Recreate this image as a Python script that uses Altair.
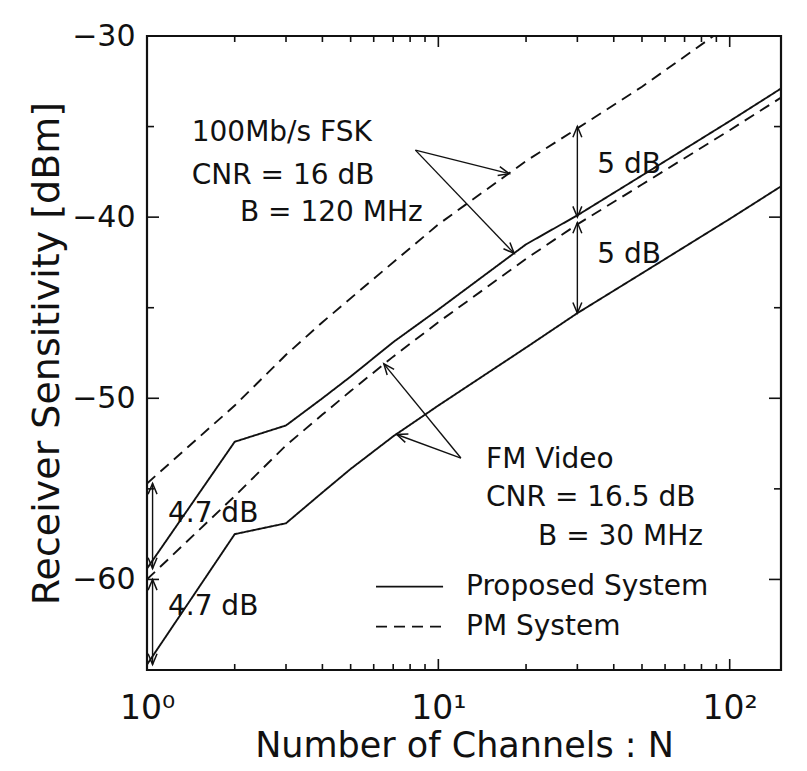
import math
import altair as alt
import pandas as pd

# Receiver sensitivity [dBm] against number of channels N
FSK_PM_N = [1, 2, 3, 4, 6, 10, 20, 30, 50, 88]
FSK_PM_S = [-54.7, -50.4, -47.6, -45.8, -43.4, -40.4, -36.9, -35.1, -32.8, -30.0]

FSK_PROP_N = [1, 2, 3, 4, 5, 7, 10, 20, 30, 50, 100, 150]
FSK_PROP_S = [-59.4, -52.4, -51.5, -50.0, -48.8, -46.9, -45.1, -41.5, -39.9, -37.7, -34.7, -32.9]

FM_PM_N = [1, 2, 3, 4, 5, 7, 10, 20, 30, 50, 100, 150]
FM_PM_S = [-60.0, -55.4, -52.6, -50.9, -49.6, -47.7, -45.8, -42.3, -40.4, -38.2, -35.2, -33.4]

FM_PROP_N = [1, 2, 3, 4, 5, 7, 10, 20, 30, 50, 100, 150]
FM_PROP_S = [-64.7, -57.5, -56.9, -55.2, -53.9, -52.1, -50.4, -47.2, -45.3, -43.1, -40.1, -38.3]

SYSTEMS = ["Proposed System", "PM System"]

# axis ticks
X_MAJOR = [1, 10, 100]
X_MAJOR_LABELS = ["10⁰", "10¹", "10²"]
X_MINOR = [2, 3, 4, 5, 6, 7, 8, 9, 20, 30, 40, 50, 60, 70, 80, 90]
Y_MAJOR = [-30, -40, -50, -60]
Y_MINOR = [-35, -45, -55]
X_DOMAIN = [1, 150]
Y_DOMAIN = [-65, -30]

# double-headed gap arrows
GAP_N = [1.045, 1.045, 30, 30]
GAP_TOP = [-54.7, -60.0, -35.0, -40.3]
GAP_BOTTOM = [-59.4, -64.7, -40.0, -45.3]
GAP_TEXT = ["4.7 dB", "4.7 dB", "5 dB", "5 dB"]
GAP_TEXT_N = [1.18, 1.18, 35.1, 35.1]
GAP_TEXT_S = [-56.4, -61.5, -37.1, -42.1]

# callout arrows from the note blocks to the curves
CALLOUT_FROM_N = [8.34, 8.34, 11.95, 11.95]
CALLOUT_FROM_S = [-36.3, -36.3, -53.3, -53.3]
CALLOUT_TO_N = [17.5, 18.2, 6.5, 7.2]
CALLOUT_TO_S = [-37.6, -42.0, -48.1, -52.0]

# note blocks
NOTE_TEXT = ["100Mb/s FSK", "CNR = 16 dB", "B = 120 MHz",
             "FM Video", "CNR = 16.5 dB", "B = 30 MHz"]
NOTE_N = [1.424, 1.424, 2.085, 14.58, 14.58, 21.99]
NOTE_S = [-35.35, -37.71, -39.79, -53.41, -55.50, -57.66]

# in-plot legend
LEGEND_LINE_N = [6.11, 10.38]
LEGEND_S = [-60.4, -62.6]
LEGEND_LABEL_N = 12.45

W, H = 634, 634
FONT = "DejaVu Sans"
INK = "#111111"

xs = alt.Scale(type="log", domain=X_DOMAIN, nice=False)
ys = alt.Scale(domain=Y_DOMAIN, nice=False, zero=False)


def px(n):
    return W * math.log10(n) / math.log10(X_DOMAIN[1] / X_DOMAIN[0])


def py(s):
    return H * (Y_DOMAIN[1] - s) / (Y_DOMAIN[1] - Y_DOMAIN[0])


def heading(n0, s0, n1, s1):
    dx = px(n1) - px(n0)
    dy = py(s1) - py(s0)
    return math.degrees(math.atan2(dx, -dy)) % 360


rows = []
for name, system, ns, ss in [
    ("fsk_pm", SYSTEMS[1], FSK_PM_N, FSK_PM_S),
    ("fsk_prop", SYSTEMS[0], FSK_PROP_N, FSK_PROP_S),
    ("fm_pm", SYSTEMS[1], FM_PM_N, FM_PM_S),
    ("fm_prop", SYSTEMS[0], FM_PROP_N, FM_PROP_S),
]:
    for n, s in zip(ns, ss):
        rows.append({"curve": name, "system": system, "N": n, "S": s})
curves_df = pd.DataFrame(rows)

dash_scale = alt.Scale(domain=SYSTEMS, range=[[1, 0], [11, 7]])

label_expr = " : ".join(
    f"datum.value == {v} ? '{t}'" for v, t in zip(X_MAJOR, X_MAJOR_LABELS)
) + " : ''"

x_axis = alt.Axis(values=X_MAJOR, labelExpr=label_expr, ticks=False, tickSize=0,
                  domain=False, grid=False, labelFlush=False, labelFont=FONT,
                  labelFontSize=33, labelColor=INK, labelPadding=22,
                  title="Number of Channels : N", titleFont=FONT, titleFontSize=35,
                  titleFontWeight="normal", titleColor=INK, titlePadding=3)
y_axis = alt.Axis(values=Y_MAJOR, format="d", ticks=False, tickSize=0, domain=False,
                  grid=False, labelFlush=False, labelFont=FONT, labelFontSize=30,
                  labelColor=INK, labelPadding=12, title="Receiver Sensitivity [dBm]",
                  titleFont=FONT, titleFontSize=38, titleFontWeight="normal",
                  titleColor=INK, titlePadding=5)


def X(field):
    return alt.X(field, scale=xs, axis=x_axis)


def Y(field):
    return alt.Y(field, scale=ys, axis=y_axis)


curves = alt.Chart(curves_df).mark_line(strokeWidth=1.9, color=INK, clip=True).encode(
    x=X("N:Q"),
    y=Y("S:Q"),
    detail="curve:N",
    strokeDash=alt.StrokeDash("system:N", scale=dash_scale, legend=None),
)

# inward tick marks on all four sides
tx = pd.DataFrame([{"N": v, "len": 11} for v in X_MAJOR] + [{"N": v, "len": 6} for v in X_MINOR])
ty = pd.DataFrame([{"S": v, "len": 12} for v in Y_MAJOR] + [{"S": v, "len": 7} for v in Y_MINOR])


def xticks(edge_top):
    layers = []
    for ln in sorted(set(tx["len"])):
        sub = tx[tx["len"] == ln]
        y0 = 0 if edge_top else H
        y1 = ln if edge_top else H - ln
        layers.append(alt.Chart(sub).mark_rule(color=INK, strokeWidth=1.6).encode(
            x=X("N:Q"), y=alt.value(y0), y2=alt.value(y1)))
    return layers


def yticks(edge_left):
    layers = []
    for ln in sorted(set(ty["len"])):
        sub = ty[ty["len"] == ln]
        x0 = 0 if edge_left else W
        x1 = ln if edge_left else W - ln
        layers.append(alt.Chart(sub).mark_rule(color=INK, strokeWidth=1.6).encode(
            y=Y("S:Q"), x=alt.value(x0), x2=alt.value(x1)))
    return layers


tick_layers = xticks(True) + xticks(False) + yticks(True) + yticks(False)

gap_df = pd.DataFrame({"N": GAP_N, "top": GAP_TOP, "bottom": GAP_BOTTOM})
gap_rules = alt.Chart(gap_df).mark_rule(color=INK, strokeWidth=1.4).encode(
    x=X("N:Q"), y=Y("top:Q"), y2="bottom:Q",
)

call_df = pd.DataFrame({"N0": CALLOUT_FROM_N, "S0": CALLOUT_FROM_S,
                        "N1": CALLOUT_TO_N, "S1": CALLOUT_TO_S})
call_rules = alt.Chart(call_df).mark_rule(color=INK, strokeWidth=1.4).encode(
    x=X("N0:Q"), y=Y("S0:Q"), x2="N1:Q", y2="S1:Q",
)

heads = []
for n, t, b in zip(GAP_N, GAP_TOP, GAP_BOTTOM):
    heads.append({"N": n, "S": t, "ang": heading(n, b, n, t)})
    heads.append({"N": n, "S": b, "ang": heading(n, t, n, b)})
for n0, s0, n1, s1 in zip(CALLOUT_FROM_N, CALLOUT_FROM_S, CALLOUT_TO_N, CALLOUT_TO_S):
    heads.append({"N": n1, "S": s1, "ang": heading(n0, s0, n1, s1)})
heads_df = pd.DataFrame(heads)

arrow_heads = alt.Chart(heads_df).mark_point(
    shape="M-0.5,1.2 L0,0 L0.5,1.2", filled=False, color=INK, strokeWidth=1.5,
    size=320, opacity=1,
).encode(
    x=X("N:Q"), y=Y("S:Q"),
    angle=alt.Angle("ang:Q", scale=None),
)

text_props = dict(align="left", baseline="middle", font=FONT, fontSize=28, color=INK)

gap_text = alt.Chart(pd.DataFrame({"N": GAP_TEXT_N, "S": GAP_TEXT_S, "t": GAP_TEXT})).mark_text(
    **text_props).encode(x=X("N:Q"), y=Y("S:Q"), text="t:N")

note_text = alt.Chart(pd.DataFrame({"N": NOTE_N, "S": NOTE_S, "t": NOTE_TEXT})).mark_text(
    **text_props).encode(x=X("N:Q"), y=Y("S:Q"), text="t:N")

leg_df = pd.DataFrame({"N0": [LEGEND_LINE_N[0]] * 2, "N1": [LEGEND_LINE_N[1]] * 2,
                       "NL": [LEGEND_LABEL_N] * 2, "S": LEGEND_S, "system": SYSTEMS})
leg_lines = alt.Chart(leg_df).mark_rule(color=INK, strokeWidth=1.8).encode(
    x=X("N0:Q"), x2="N1:Q", y=Y("S:Q"),
    strokeDash=alt.StrokeDash("system:N", scale=dash_scale, legend=None),
)
leg_text = alt.Chart(leg_df).mark_text(**text_props).encode(
    x=X("NL:Q"), y=Y("S:Q"), text="system:N",
)

chart = alt.layer(
    curves, *tick_layers, gap_rules, call_rules, arrow_heads,
    gap_text, note_text, leg_lines, leg_text,
).properties(
    width=W, height=H,
    autosize=alt.AutoSizeParams(type="none"),
    padding={"left": 147, "top": 36, "right": 26, "bottom": 101},
    background="white",
).configure_view(stroke=INK, strokeWidth=2.2)

chart.save("out.html", embed_options={"renderer": "svg", "actions": False})
